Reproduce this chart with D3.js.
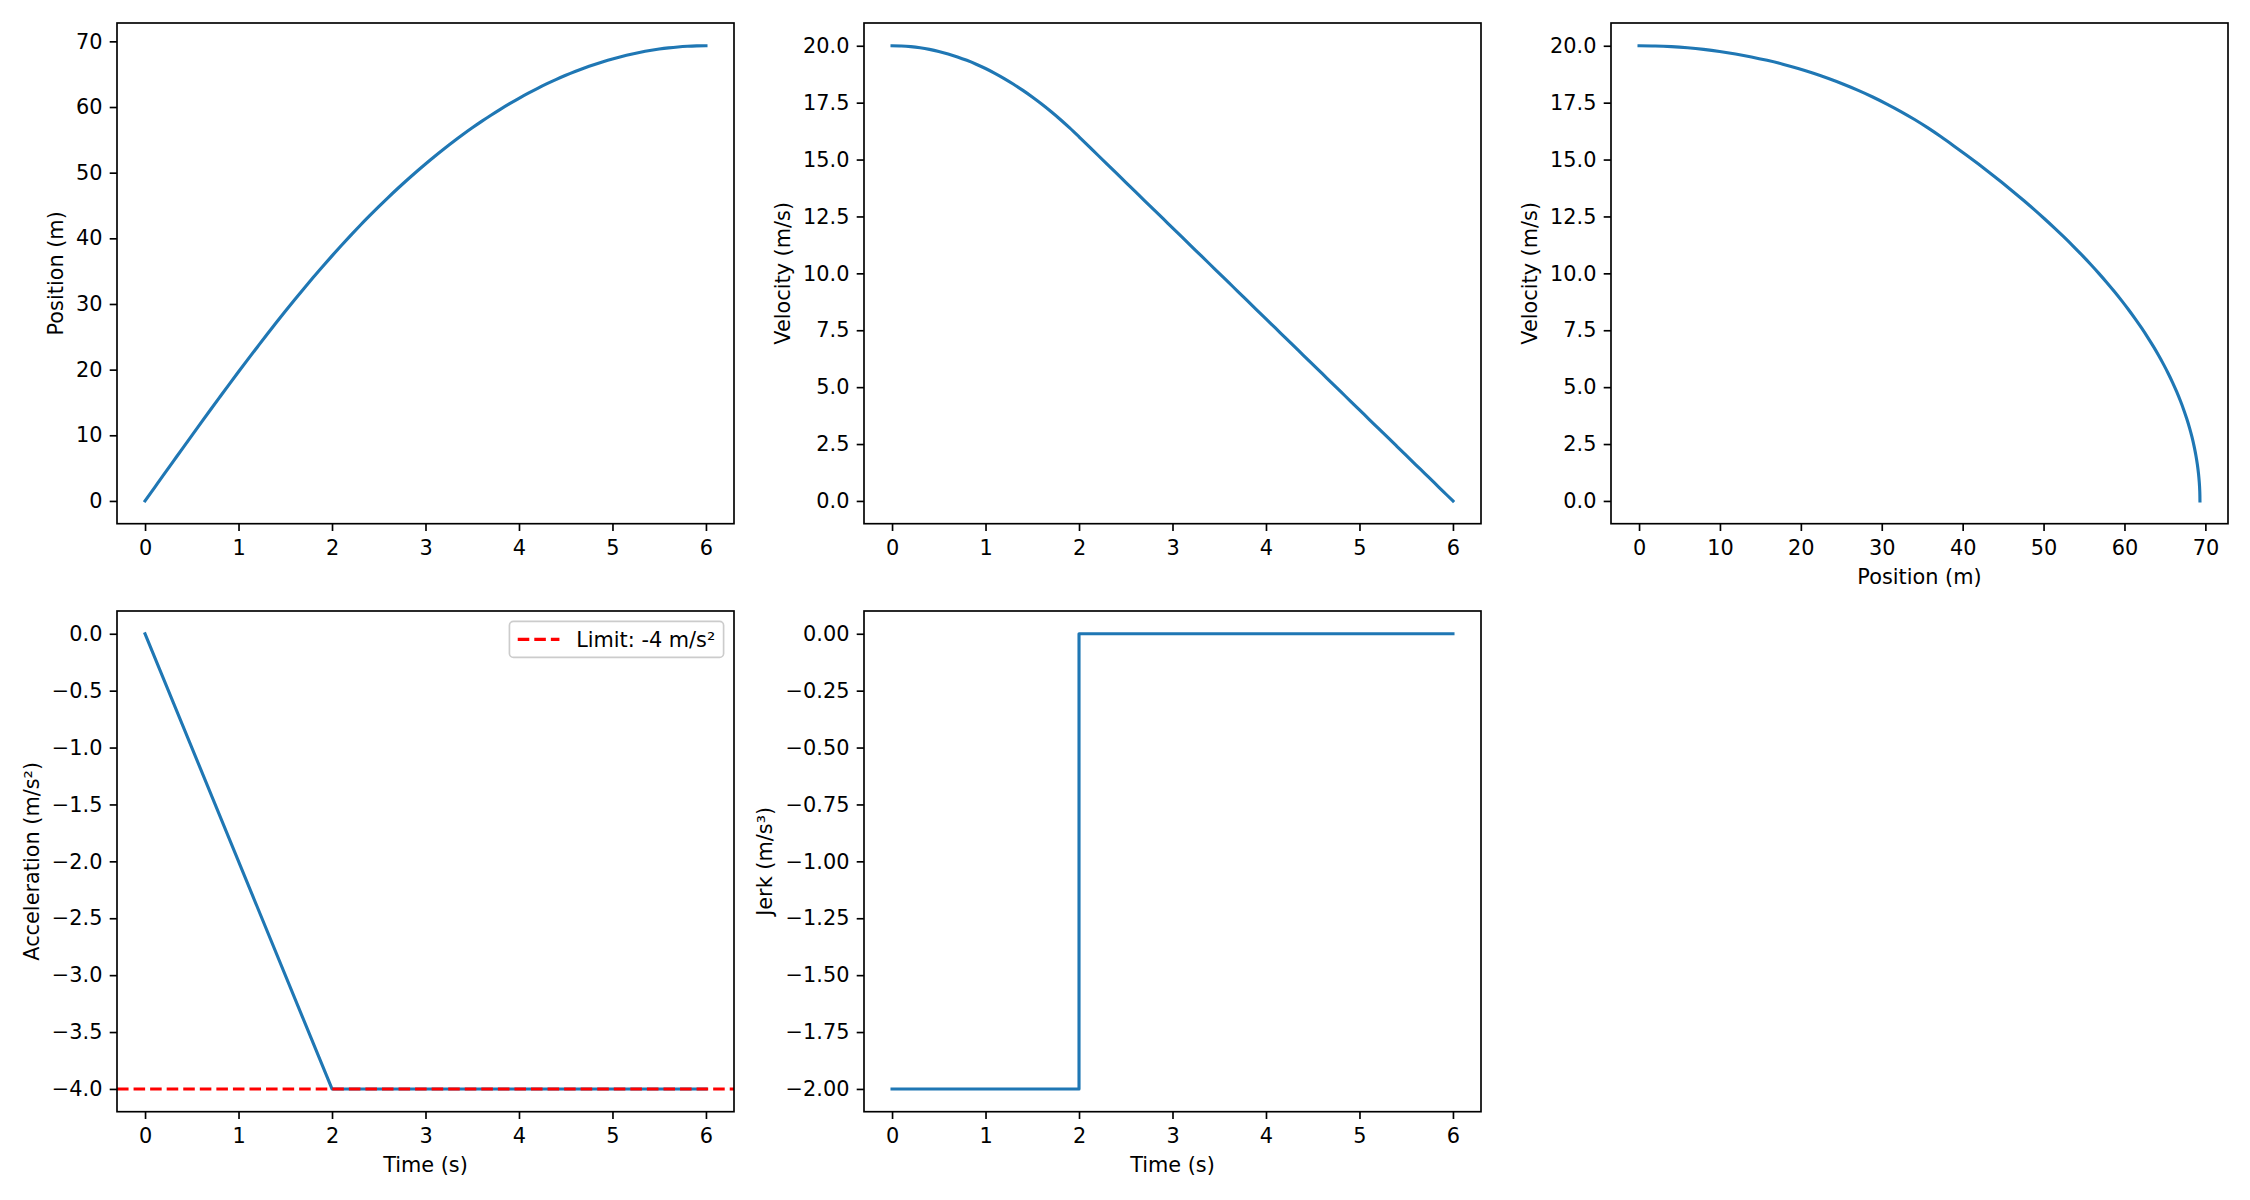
<!DOCTYPE html>
<html><head><meta charset="utf-8">
<script src="https://cdn.jsdelivr.net/npm/d3@7"></script>
<style>body{margin:0;background:#fff} text{font-family:"DejaVu Sans";}</style>
</head><body><svg id="chart" width="2250" height="1200"></svg>
<script>
// ---------------- data ----------------
const time = [0.0,0.1,0.2,0.3,0.4,0.5,0.6,0.7,0.8,0.9,1.0,1.1,1.2,1.3,1.4,1.5,1.6,1.7,1.8,1.9,2.0,
  2.1,2.2,2.3,2.4,2.5,2.6,2.7,2.8,2.9,3.0,3.1,3.2,3.3,3.4,3.5,3.6,3.7,3.8,3.9,4.0,
  4.1,4.2,4.3,4.4,4.5,4.6,4.7,4.8,4.9,5.0,5.1,5.2,5.3,5.4,5.5,5.6,5.7,5.8,5.9,6.0];
const position = [0,2.00,4.00,5.99,7.98,9.96,11.93,13.89,15.83,17.76,19.67,
  21.56,23.42,25.27,27.09,28.88,30.63,32.36,34.06,35.71,37.33,
  38.91,40.45,41.95,43.41,44.83,46.21,47.55,48.85,50.11,51.33,
  52.51,53.65,54.75,55.81,56.83,57.81,58.75,59.65,60.51,61.33,
  62.11,62.85,63.55,64.21,64.83,65.41,65.95,66.45,66.91,67.33,
  67.71,68.05,68.35,68.61,68.83,69.01,69.15,69.25,69.31,69.33];
const velocity = [20,19.99,19.96,19.91,19.84,19.75,19.64,19.51,19.36,19.19,19.00,
  18.79,18.56,18.31,18.04,17.75,17.44,17.11,16.76,16.39,16.00,
  15.6,15.2,14.8,14.4,14.0,13.6,13.2,12.8,12.4,12.0,
  11.6,11.2,10.8,10.4,10.0,9.6,9.2,8.8,8.4,8.0,
  7.6,7.2,6.8,6.4,6.0,5.6,5.2,4.8,4.4,4.0,
  3.6,3.2,2.8,2.4,2.0,1.6,1.2,0.8,0.4,0];
const accelTime = [0, 2, 6];
const acceleration = [0, -4, -4];
const jerkTime = [0, 2, 6];
const jerk = [-2, 0, 0];
const accelLimit = -4;
const legendLabel = "Limit: -4 m/s²";

const timeTicks = [0,1,2,3,4,5,6];
const positionTicks = [0,10,20,30,40,50,60,70];
const velocityTicks = [0,2.5,5,7.5,10,12.5,15,17.5,20];
const accelTicks = [0,-0.5,-1,-1.5,-2,-2.5,-3,-3.5,-4];
const jerkTicks = [0,-0.25,-0.5,-0.75,-1,-1.25,-1.5,-1.75,-2];

// ---------------- layout ----------------
const FS = 20.83, TICK = 7.3, TPAD = 8.8, LW = 3.125, SPINE = 1.67;
const BLUE = "#1f77b4";
const colL = [117, 864, 1611], rowT = [23, 611], W = 617, H = 500.7;

const svg = d3.select("#chart");
svg.append("rect").attr("width",2250).attr("height",1200).attr("fill","#fff");

function padExt(ext){const d = ext[1]-ext[0]; return [ext[0]-0.05*d, ext[1]+0.05*d];}

let clipId = 0;
function panel(o){
  const g = svg.append("g").attr("transform",`translate(${o.left},${o.top})`);
  const x = d3.scaleLinear().domain(padExt(d3.extent(o.xd))).range([0, W]);
  const y = d3.scaleLinear().domain(padExt(d3.extent(o.yd))).range([H, 0]);
  const cid = "clip" + (clipId++);
  g.append("clipPath").attr("id", cid).append("rect").attr("width", W).attr("height", H);
  const plot = g.append("g").attr("clip-path", `url(#${cid})`);
  const pts = o.xd.map((v,i)=>[v, o.yd[i]]);
  plot.append("path").datum(pts)
    .attr("d", d3.line().x(d=>x(d[0])).y(d=>y(d[1])).curve(o.curve || d3.curveLinear))
    .attr("fill","none").attr("stroke",BLUE).attr("stroke-width",LW)
    .attr("stroke-linecap","square").attr("stroke-linejoin","round");
  if (o.extra) o.extra(plot, x, y);

  const xa = g.append("g").attr("transform",`translate(0,${H})`)
    .call(d3.axisBottom(x).tickValues(o.xTicks).tickFormat(d3.format(o.xFmt)).tickSize(TICK).tickPadding(TPAD));
  const ya = g.append("g")
    .call(d3.axisLeft(y).tickValues(o.yTicks).tickFormat(d3.format(o.yFmt)).tickSize(TICK).tickPadding(7.3));
  [xa, ya].forEach(a=>{
    a.select(".domain").remove();
    a.attr("font-size", null).attr("font-family", null);
    a.selectAll("line").attr("stroke","#000").attr("stroke-width",SPINE);
    a.selectAll("text").attr("fill","#000").style("font-size", FS+"px").style("font-family","DejaVu Sans");
  });
  g.append("rect").attr("width",W).attr("height",H).attr("fill","none")
    .attr("stroke","#000").attr("stroke-width",SPINE);

  // y label
  let minX = 0;
  ya.selectAll("text").each(function(){ const b = this.getBBox(); minX = Math.min(minX, b.x); });
  g.append("text").attr("transform",`translate(${minX - 8.3 - 4.9},${H/2}) rotate(-90)`)
    .attr("text-anchor","middle").style("font-size",FS+"px").attr("fill","#000").text(o.yLabel);
  if (o.xLabel) {
    g.append("text").attr("x", W/2).attr("y", H + 60).attr("text-anchor","middle")
      .style("font-size",FS+"px").attr("fill","#000").text(o.xLabel);
  }
  if (o.legend) o.legend(g);
}

panel({left:colL[0], top:rowT[0], xd:time, yd:position, xTicks:timeTicks, yTicks:positionTicks,
  xFmt:"d", yFmt:"d", yLabel:"Position (m)", curve:d3.curveMonotoneX});
panel({left:colL[1], top:rowT[0], xd:time, yd:velocity, xTicks:timeTicks, yTicks:velocityTicks,
  xFmt:"d", yFmt:".1f", yLabel:"Velocity (m/s)", curve:d3.curveMonotoneX});
panel({left:colL[2], top:rowT[0], xd:position, yd:velocity, xTicks:positionTicks, yTicks:velocityTicks,
  xFmt:"d", yFmt:".1f", yLabel:"Velocity (m/s)", xLabel:"Position (m)", curve:d3.curveCatmullRom});
panel({left:colL[0], top:rowT[1], xd:accelTime, yd:acceleration, xTicks:timeTicks, yTicks:accelTicks,
  xFmt:"d", yFmt:".1f", yLabel:"Acceleration (m/s²)", xLabel:"Time (s)",
  extra:(plot,x,y)=>{
    plot.append("line").attr("x1",0).attr("x2",W).attr("y1",y(accelLimit)).attr("y2",y(accelLimit))
      .attr("stroke","red").attr("stroke-width",LW).attr("stroke-dasharray","11.56,5");
  },
  legend:(g)=>{
    const lg = g.append("g");
    const box = lg.append("rect");
    const txt = lg.append("text").style("font-size",FS+"px").attr("fill","#000").text(legendLabel);
    const tw = txt.node().getComputedTextLength();
    const bp = 8.3, hl = 41.7, htp = 16.7;
    const bw = bp + hl + htp + tw + bp, bh = 36;
    const bx = W - 10.4 - bw, by = 10.4;
    box.attr("x",bx).attr("y",by).attr("width",bw).attr("height",bh).attr("rx",4)
      .attr("fill","#fff").attr("fill-opacity",0.8).attr("stroke","#cccccc").attr("stroke-width",1.67);
    lg.append("line").attr("x1",bx+bp).attr("x2",bx+bp+hl).attr("y1",by+bh/2).attr("y2",by+bh/2)
      .attr("stroke","red").attr("stroke-width",LW).attr("stroke-dasharray","11.56,5");
    txt.attr("x", bx+bp+hl+htp).attr("y", by+bh/2 + 7.3);
  }});
panel({left:colL[1], top:rowT[1], xd:jerkTime, yd:jerk, xTicks:timeTicks, yTicks:jerkTicks,
  xFmt:"d", yFmt:".2f", yLabel:"Jerk (m/s³)", xLabel:"Time (s)", curve:d3.curveStepAfter});
</script></body></html>
